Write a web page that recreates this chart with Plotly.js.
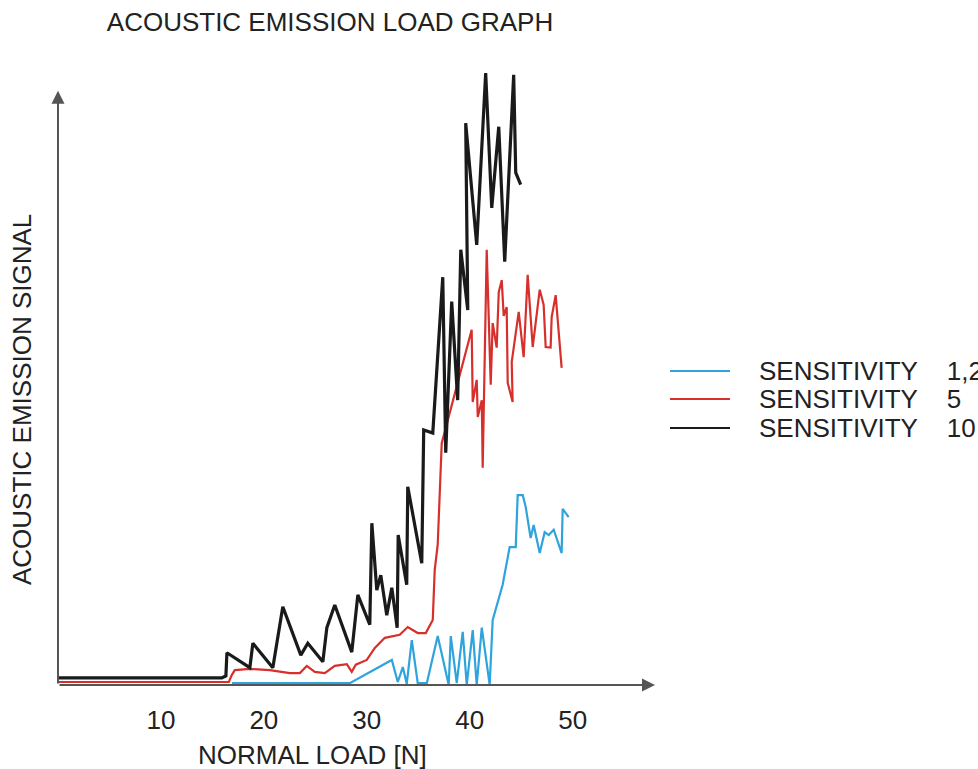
<!DOCTYPE html>
<html>
<head>
<meta charset="utf-8">
<script src="https://cdn.plot.ly/plotly-3.0.1.min.js"></script>
<style>html,body{margin:0;padding:0;background:#fff;}#chart{width:978px;height:769px;}</style>
</head>
<body>
<div id="chart"></div>
<script>
// Normal load [N]
const xBlue = [16.9, 28.35, 32.43, 33.01, 33.50, 33.88, 34.37, 34.95, 35.83, 36.89, 37.96, 38.16, 38.74, 39.32, 39.71, 40.29, 40.68, 41.17, 41.94, 42.23, 43.20, 43.88, 44.47, 44.66, 45.15, 45.44, 45.92, 46.21, 46.80, 47.28, 47.67, 48.16, 48.93, 49.03, 49.61];
const yBlue = [0.3, 0.3, 4.2, 0.5, 3.0, 0.2, 7.5, 0.3, 0.3, 8.2, 0, 8.2, 0.3, 8.9, 0, 9.2, 0, 9.6, 0, 10.9, 16.8, 23.1, 23.1, 31.8, 31.8, 29.8, 24.6, 26.8, 22.1, 25.6, 25.1, 26.0, 22.1, 29.5, 28.1];

const xRed = [0, 16.60, 16.89, 17.18, 18.64, 20.58, 22.52, 23.50, 24.17, 24.95, 25.92, 26.89, 28.06, 28.54, 28.93, 30.00, 30.78, 31.75, 33.20, 33.98, 34.95, 35.73, 36.41, 36.60, 36.89, 37.18, 37.28, 40.19, 40.29, 40.68, 40.78, 41.17, 41.26, 41.65, 42.04, 42.23, 42.62, 42.82, 43.11, 43.30, 43.59, 43.69, 44.17, 44.08, 44.76, 45.24, 45.63, 46.12, 46.80, 47.18, 47.38, 47.86, 47.96, 48.35, 48.93];
const yRed = [0.5, 0.5, 1.7, 2.5, 2.7, 2.5, 2.0, 2.0, 3.2, 2.2, 2.0, 3.2, 3.5, 2.2, 3.4, 4.2, 6.2, 7.9, 8.4, 9.7, 8.7, 8.7, 10.9, 19.3, 23.5, 37.7, 40.5, 59.5, 47.4, 51.1, 44.9, 47.7, 36.4, 72.9, 50.3, 60.6, 56.5, 65.8, 67.8, 61.8, 63.3, 50.6, 47.4, 54.1, 62.5, 54.9, 68.7, 56.6, 66.2, 63.7, 56.6, 56.5, 61.6, 65.3, 53.1];

const xBlack = [0, 15.92, 16.31, 16.41, 18.64, 18.93, 20.87, 21.84, 23.59, 24.27, 25.73, 26.12, 26.89, 28.54, 29.13, 30.29, 30.49, 30.97, 31.36, 31.94, 32.43, 32.95, 33.05, 33.88, 33.98, 35.34, 35.53, 36.41, 37.38, 37.67, 38.25, 38.83, 39.13, 39.81, 39.61, 40.68, 41.55, 42.14, 42.82, 43.40, 44.27, 44.47, 44.95];
const yBlack = [1.2, 1.2, 1.5, 5.4, 2.9, 7.0, 2.9, 13.1, 5.0, 7.0, 3.9, 9.6, 13.4, 5.5, 15.1, 10.1, 27.1, 15.9, 18.4, 11.7, 16.3, 9.6, 25.1, 16.8, 33.2, 20.4, 42.7, 42.2, 68.3, 38.9, 64.2, 47.7, 72.9, 62.8, 94.1, 73.7, 102.5, 79.9, 93.5, 70.9, 102.2, 85.8, 83.8];

const seriesNames = ["SENSITIVITY\u00a0\u00a0\u00a0\u00a01,2", "SENSITIVITY\u00a0\u00a0\u00a0\u00a05", "SENSITIVITY\u00a0\u00a0\u00a0\u00a010"];
const xTickVals = [10, 20, 30, 40, 50];
const xTickText = ["10", "20", "30", "40", "50"];

const colors = ["#2ea3dc", "#d7302c", "#1a1a1a"];
const widths = [2.2, 2.2, 3.2];

const traces = [
  {x: xBlue, y: yBlue, name: seriesNames[0]},
  {x: xRed, y: yRed, name: seriesNames[1]},
  {x: xBlack, y: yBlack, name: seriesNames[2]}
].map((t, i) => Object.assign(t, {
  type: 'scatter', mode: 'lines',
  line: {color: colors[i], width: widths[i]},
  cliponaxis: false, showlegend: false, hoverinfo: 'skip'
}));

const FONT = 'Liberation Sans, Arial, sans-serif';
const TXT = '#222';
const FS = 26;

const annotations = [
  // axes arrows
  {x: 58, y: 0, ax: 0, ay: 0, xref: 'x', yref: 'y', axref: 'x', ayref: 'y',
   showarrow: true, arrowhead: 2, arrowsize: 1.3, arrowwidth: 2, arrowcolor: '#555', text: ''},
  {x: 0, y: 99.5, ax: 0, ay: 0, xref: 'x', yref: 'y', axref: 'x', ayref: 'y',
   showarrow: true, arrowhead: 2, arrowsize: 1.3, arrowwidth: 2, arrowcolor: '#555', text: ''},
  // y axis title
  {text: 'ACOUSTIC EMISSION SIGNAL', xref: 'paper', yref: 'paper', x: 0, y: (685 - 400) / 621,
   xshift: -36, textangle: -90, showarrow: false, xanchor: 'center', yanchor: 'middle',
   font: {family: FONT, size: FS, color: TXT}},
  // x axis title
  {text: 'NORMAL LOAD [N]', xref: 'paper', yref: 'paper', x: (312 - 58) / 597, y: 0,
   yshift: -70, showarrow: false, xanchor: 'center', yanchor: 'middle',
   font: {family: FONT, size: FS, color: TXT}}
];

const shapes = [];
const legendY = [371, 399, 428];
for (let i = 0; i < 3; i++) {
  const py = (685 - legendY[i]) / 621;
  shapes.push({type: 'line', xref: 'paper', yref: 'paper',
    x0: (670 - 58) / 597, x1: (730 - 58) / 597, y0: py, y1: py,
    line: {color: colors[i], width: 2}});
  annotations.push({text: seriesNames[i], xref: 'paper', yref: 'paper',
    x: (757 - 58) / 597, y: py, xanchor: 'left', yanchor: 'middle', showarrow: false,
    font: {family: FONT, size: FS, color: TXT}});
}

const layout = {
  width: 978, height: 769,
  margin: {l: 58, r: 323, t: 64, b: 84, pad: 0},
  paper_bgcolor: '#fff', plot_bgcolor: '#fff',
  title: {text: 'ACOUSTIC EMISSION LOAD GRAPH', x: 330 / 978, xanchor: 'center',
          y: 1 - 22 / 769, yanchor: 'middle', font: {family: FONT, size: FS, color: TXT}},
  xaxis: {range: [0, 58], tickvals: xTickVals, ticktext: xTickText, showgrid: false,
          zeroline: false, showline: false, ticks: '', ticklabelstandoff: 17,
          tickfont: {family: FONT, size: FS, color: TXT}, fixedrange: true},
  yaxis: {range: [0, 104], showticklabels: false, showgrid: false, zeroline: false,
          showline: false, ticks: '', fixedrange: true},
  showlegend: false,
  annotations: annotations,
  shapes: shapes
};

Plotly.newPlot('chart', traces, layout, {displayModeBar: false, staticPlot: true});
</script>
</body>
</html>
